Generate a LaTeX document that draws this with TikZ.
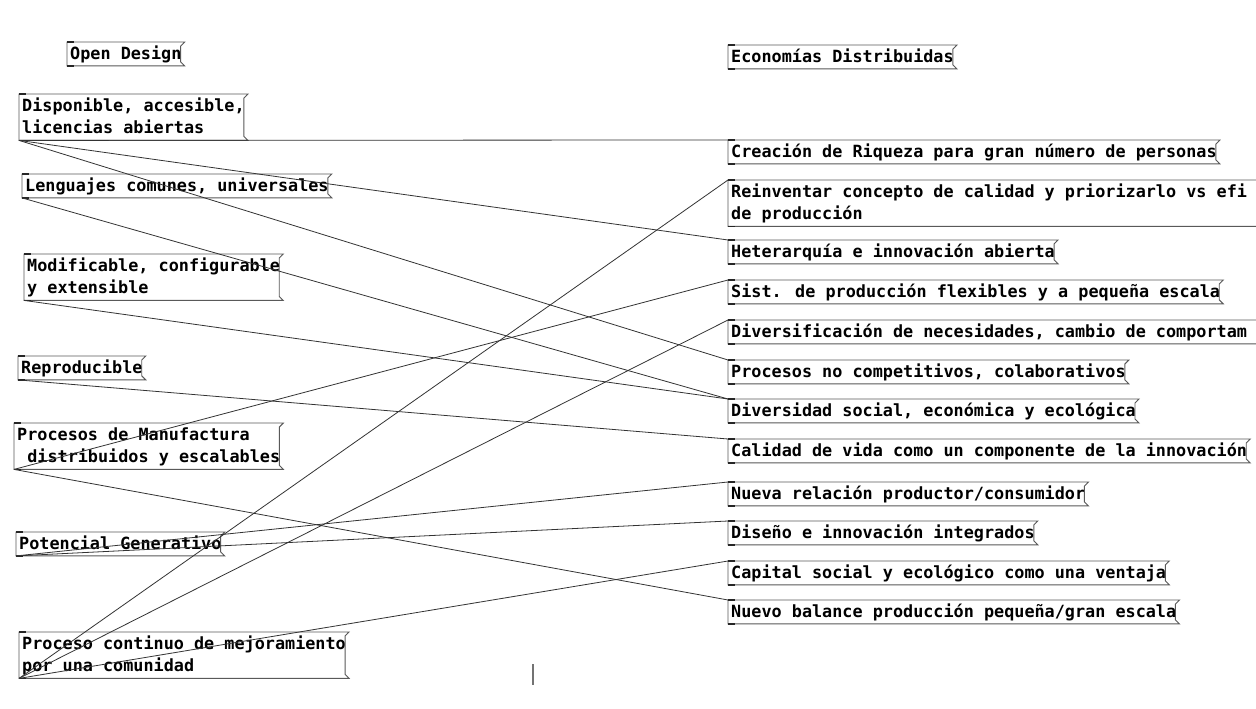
\documentclass[tikz,border=0pt]{standalone}
\usepackage{fontspec}
\newfontfamily\pdfont{DejaVu Sans Mono}
\newcommand\pdstrut{\rule[-5.5pt]{0pt}{21.5pt}}
\begin{document}
\begin{tikzpicture}[x=1pt,y=-1pt,
  pdmsg/.style={font=\pdfont\bfseries\fontsize{16.8pt}{20pt}\selectfont, inner xsep=3pt, inner ysep=1pt, align=left, anchor=north west},
  pdoutline/.style={draw=black!65, line width=0.9pt, line join=miter},
  pdport/.style={draw=black!85, line width=1.4pt},
  pdwire/.style={draw=black!80, line width=0.8pt},
  pdcursor/.style={draw=black!55, line width=1.3pt}]
\useasboundingbox (0,0) rectangle (1256,709);
\fill[white] (0,0) rectangle (1256,709);
\clip (0,0) rectangle (1256,709);
% left column
\node[pdmsg] (od)  at (67,42)  {\pdstrut Open Design};
\node[pdmsg] (dis) at (19,94)  {\pdstrut Disponible, accesible,\\licencias abiertas\pdstrut};
\node[pdmsg] (len) at (22,174) {\pdstrut Lenguajes comunes, universales};
\node[pdmsg] (mod) at (24,254) {\pdstrut Modificable, configurable\\y extensible\pdstrut};
\node[pdmsg] (rep) at (18,356) {\pdstrut Reproducible};
\node[pdmsg] (pm)  at (14,423) {\pdstrut Procesos de Manufactura\\\hphantom{d}distribuidos y escalables\pdstrut};
\node[pdmsg] (pg)  at (16,532) {\pdstrut Potencial Generativo};
\node[pdmsg] (pc)  at (19,632) {\pdstrut Proceso continuo de mejoramiento\\por una comunidad\pdstrut};
% right column
\node[pdmsg] (ed) at (728,45)  {\pdstrut Economías Distribuidas};
\node[pdmsg] (cr) at (728,140) {\pdstrut Creación de Riqueza para gran número de personas};
\node[pdmsg] (rc) at (728,180) {\pdstrut Reinventar concepto de calidad y priorizarlo vs efi\hspace*{60pt}\\de producción\pdstrut};
\node[pdmsg] (he) at (728,240) {\pdstrut Heterarquía e innovación abierta};
\node[pdmsg] (sp) at (728,280) {\pdstrut Sist. de producción flexibles y a pequeña escala};
\node[pdmsg] (dn) at (728,320) {\pdstrut Diversificación de necesidades, cambio de comportam\hspace*{60pt}};
\node[pdmsg] (pn) at (728,360) {\pdstrut Procesos no competitivos, colaborativos};
\node[pdmsg] (ds) at (728,399) {\pdstrut Diversidad social, económica y ecológica};
\node[pdmsg] (cv) at (728,439) {\pdstrut Calidad de vida como un componente de la innovación};
\node[pdmsg] (nr) at (728,482) {\pdstrut Nueva relación productor/consumidor};
\node[pdmsg] (di) at (728,521) {\pdstrut Diseño e innovación integrados};
\node[pdmsg] (cs) at (728,561) {\pdstrut Capital social y ecológico como una ventaja};
\node[pdmsg] (nb) at (728,600) {\pdstrut Nuevo balance producción pequeña/gran escala};
% message box outlines and ports
\foreach \n in {od,dis,len,mod,rep,pm,pg,pc,ed,cr,rc,he,sp,dn,pn,ds,cv,nr,di,cs,nb}{
  \draw[pdoutline] (\n.north west) -- (\n.north east) -- ([shift={(-4,4)}]\n.north east)
     -- ([shift={(-4,-4)}]\n.south east) -- (\n.south east) -- (\n.south west) -- cycle;
  \draw[pdport] (\n.north west) -- ([xshift=7pt]\n.north west);
  \draw[pdport] (\n.south west) -- ([xshift=7pt]\n.south west);
}
% connections
\draw[pdwire] (dis.south west) -- (cr.north west);
\draw[pdwire] (dis.south west) -- (he.north west);
\draw[pdwire] (dis.south west) -- (pn.north west);
\draw[pdwire] (len.south west) -- (ds.north west);
\draw[pdwire] (mod.south west) -- (ds.north west);
\draw[pdwire] (rep.south west) -- (cv.north west);
\draw[pdwire] (pm.south west) -- (sp.north west);
\draw[pdwire] (pm.south west) -- (nb.north west);
\draw[pdwire] (pg.south west) -- (nr.north west);
\draw[pdwire] (pg.south west) -- (di.north west);
\draw[pdwire] (pc.south west) -- (rc.north west);
\draw[pdwire] (pc.south west) -- (dn.north west);
\draw[pdwire] (pc.south west) -- (cs.north west);
% text cursor
\coordinate (curtop) at (533,664);
\coordinate (curbot) at (533,685);
\draw[pdcursor] (curtop) -- (curbot);
\end{tikzpicture}
\end{document}
